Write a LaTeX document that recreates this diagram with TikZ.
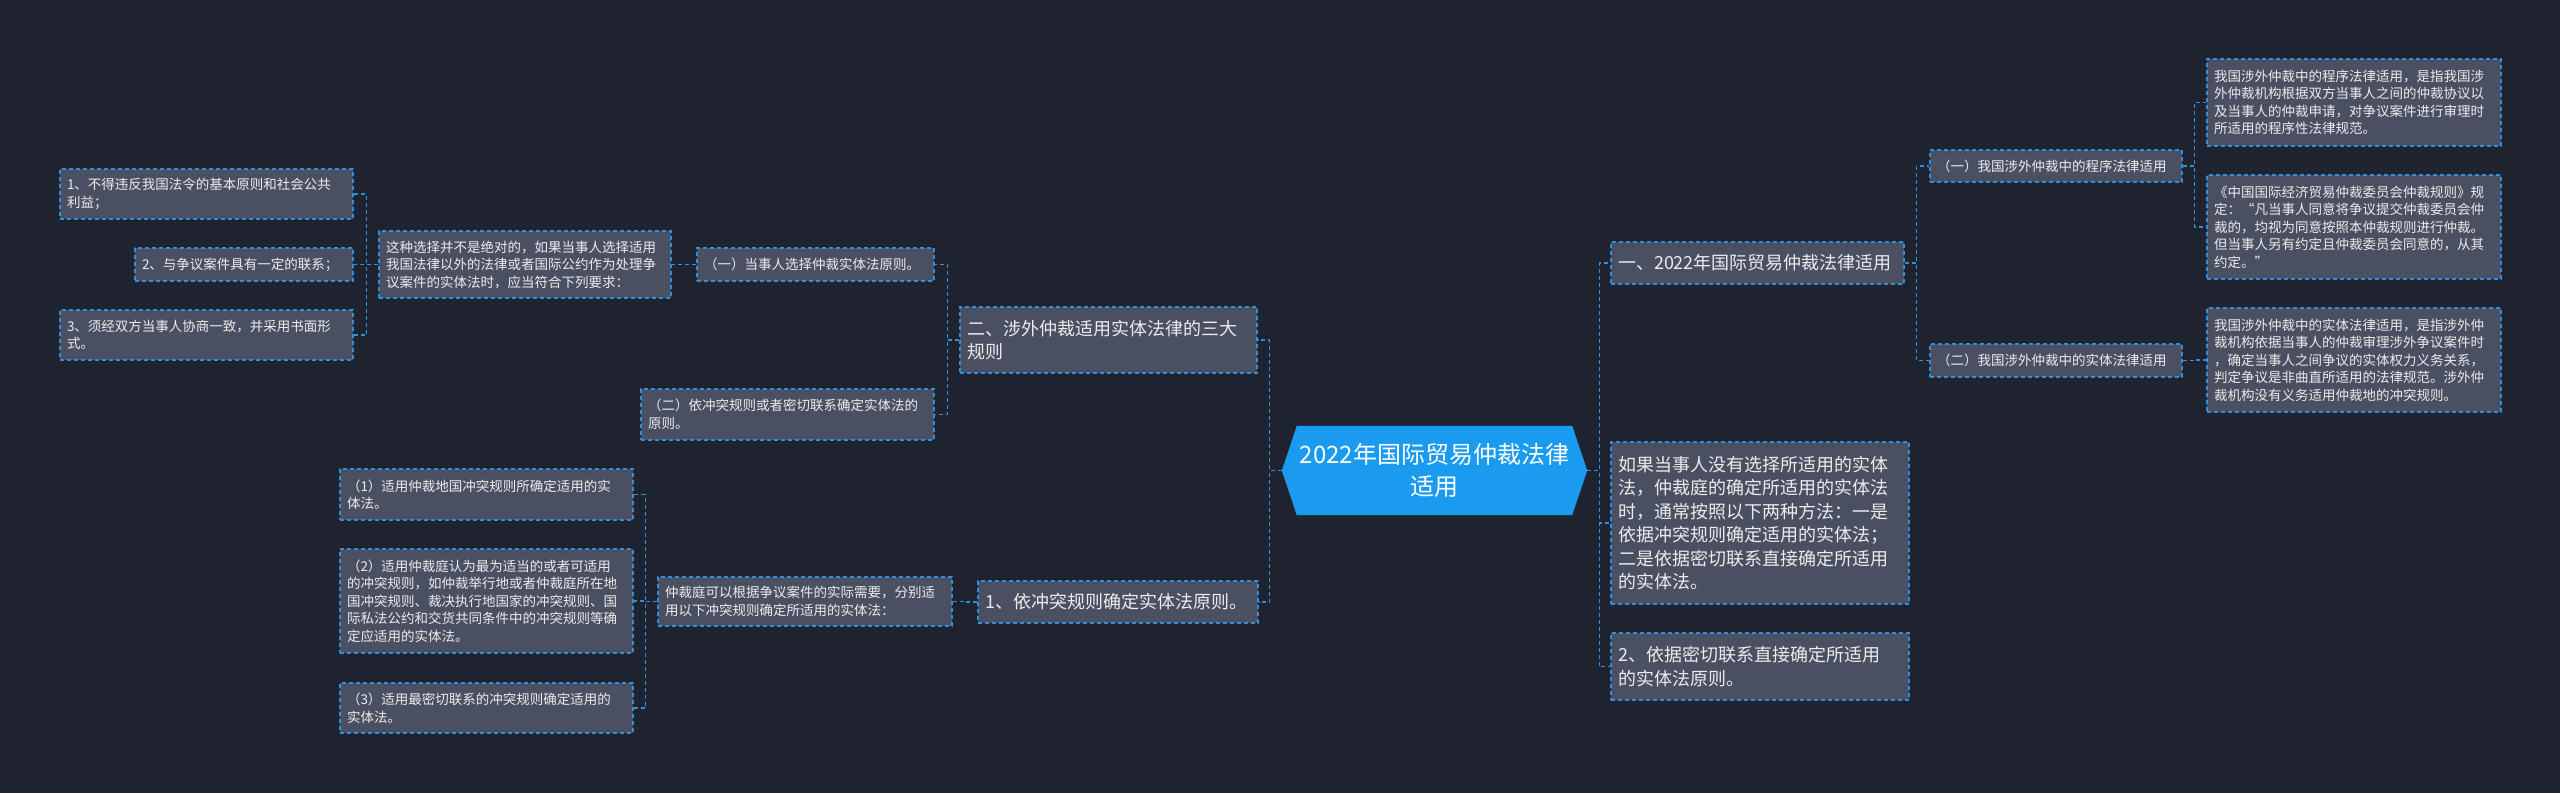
\documentclass[tikz,border=0pt]{standalone}
\usepackage{fontspec}
\setmainfont{Noto Sans CJK SC}
\usetikzlibrary{backgrounds}
\definecolor{bgc}{HTML}{1F2330}
\definecolor{boxc}{HTML}{4A5062}
\definecolor{lnc}{HTML}{2F8FDD}
\definecolor{txc}{HTML}{ECECEC}
\definecolor{ctc}{HTML}{1A9BF0}
\tikzset{
  box/.style={draw=lnc, fill=boxc, dash pattern=on 4pt off 3pt, line width=1.2pt,
     text=txc, align=left, inner xsep=7pt, inner ysep=3pt, anchor=center},
  sm/.style={font=\fontsize{13.5}{17.5}\selectfont},
  md/.style={font=\fontsize{18}{23.5}\selectfont},
  conn/.style={draw=lnc, dash pattern=on 4pt off 3pt, line width=1.2pt},
}
\newcommand{\bx}[7]{\node[box,#1,minimum width=#4pt,minimum height=#5pt,text width=#6pt] (#2) at (#3) {#7};}
\begin{document}
\begin{tikzpicture}[x=1pt,y=-1pt]
\begin{scope}[on background layer]
\fill[bgc] (0,0) rectangle (2560,793);
\end{scope}
\useasboundingbox (0,0) rectangle (2560,793);
% center
\node[minimum width=305pt,minimum height=89pt,inner sep=0pt,text=white,align=center,
  font=\fontsize{24}{32}\selectfont] (c) at (1434.5,470.5) {2022年国际贸易仲裁法律\\适用};
\begin{scope}[on background layer]
\fill[ctc] ([xshift=15pt]c.north west) -- ([xshift=-15pt]c.north east) -- (c.east)
  -- ([xshift=-15pt]c.south east) -- ([xshift=15pt]c.south west) -- (c.west) -- cycle;
\end{scope}
% right
\bx{md}{r1}{1757.5,263}{293}{42}{279}{一、2022年国际贸易仲裁法律适用}
\bx{sm}{r1a}{2056,166}{252}{32}{238}{（一）我国涉外仲裁中的程序法律适用}
\bx{sm}{r1b}{2056,360.5}{252}{33}{238}{（二）我国涉外仲裁中的实体法律适用}
\bx{sm}{rl1}{2354,102.5}{294}{87}{280}{我国涉外仲裁中的程序法律适用，是指我国涉\\外仲裁机构根据双方当事人之间的仲裁协议以\\及当事人的仲裁申请，对争议案件进行审理时\\所适用的程序性法律规范。}
\bx{sm}{rl2}{2354,227}{294}{104}{280}{《中国国际经济贸易仲裁委员会仲裁规则》规\\定：“凡当事人同意将争议提交仲裁委员会仲\\裁的，均视为同意按照本仲裁规则进行仲裁。\\但当事人另有约定且仲裁委员会同意的，从其\\约定。”}
\bx{sm}{rl3}{2354,360}{294}{104}{280}{我国涉外仲裁中的实体法律适用，是指涉外仲\\裁机构依据当事人的仲裁审理涉外争议案件时\\，确定当事人之间争议的实体权力义务关系，\\判定争议是非曲直所适用的法律规范。涉外仲\\裁机构没有义务适用仲裁地的冲突规则。}
\bx{md}{r2}{1760,523}{298}{162}{284}{如果当事人没有选择所适用的实体\\法，仲裁庭的确定所适用的实体法\\时，通常按照以下两种方法：一是\\依据冲突规则确定适用的实体法；\\二是依据密切联系直接确定所适用\\的实体法。}
\bx{md}{r3}{1760,666.5}{298}{67}{284}{2、依据密切联系直接确定所适用\\的实体法原则。}
% left
\bx{md}{l1}{1108.5,340}{297}{66}{283}{二、涉外仲裁适用实体法律的三大\\规则}
\bx{sm}{l1a}{815.5,264.5}{237}{33}{223}{（一）当事人选择仲裁实体法原则。}
\bx{sm}{l1b}{787.5,414.5}{293}{51}{279}{（二）依冲突规则或者密切联系确定实体法的\\原则。}
\bx{sm}{lc}{525,264.5}{292}{67}{278}{这种选择并不是绝对的，如果当事人选择适用\\我国法律以外的法律或者国际公约作为处理争\\议案件的实体法时，应当符合下列要求：}
\bx{sm}{ll1}{206.5,194}{293}{50}{279}{1、不得违反我国法令的基本原则和社会公共\\利益；}
\bx{sm}{ll2}{244,264.5}{218}{33}{204}{2、与争议案件具有一定的联系；}
\bx{sm}{ll3}{206.5,335}{293}{50}{279}{3、须经双方当事人协商一致，并采用书面形\\式。}
\bx{md}{l2}{1118,602}{280}{42}{266}{1、依冲突规则确定实体法原则。}
\bx{sm}{l2a}{805,601.5}{294}{49}{280}{仲裁庭可以根据争议案件的实际需要，分别适\\用以下冲突规则确定所适用的实体法：}
\bx{sm}{p1}{486.5,494.5}{293}{51}{279}{（1）适用仲裁地国冲突规则所确定适用的实\\体法。}
\bx{sm}{p2}{486.5,601}{293}{104}{279}{（2）适用仲裁庭认为最为适当的或者可适用\\的冲突规则，如仲裁举行地或者仲裁庭所在地\\国冲突规则、裁决执行地国家的冲突规则、国\\际私法公约和交货共同条件中的冲突规则等确\\定应适用的实体法。}
\bx{sm}{p3}{486.5,708}{293}{50}{279}{（3）适用最密切联系的冲突规则确定适用的\\实体法。}
% connectors right
\foreach \a/\b in {c/r1,c/r2,c/r3,r1/r1a,r1/r1b,r1a/rl1,r1a/rl2,r1b/rl3}
  \draw[conn] (\a.east) -- ++(12,0) |- (\b.west);
% connectors left
\foreach \a/\b in {c/l1,c/l2,l1/l1a,l1/l1b,lc/ll1,lc/ll2,lc/ll3,l2/l2a,l2a/p1,l2a/p2,l2a/p3}
  \draw[conn] (\a.west) -- ++(-12,0) |- (\b.east);
\draw[conn] (l1a.west) -- (lc.east);
\end{tikzpicture}
\end{document}
